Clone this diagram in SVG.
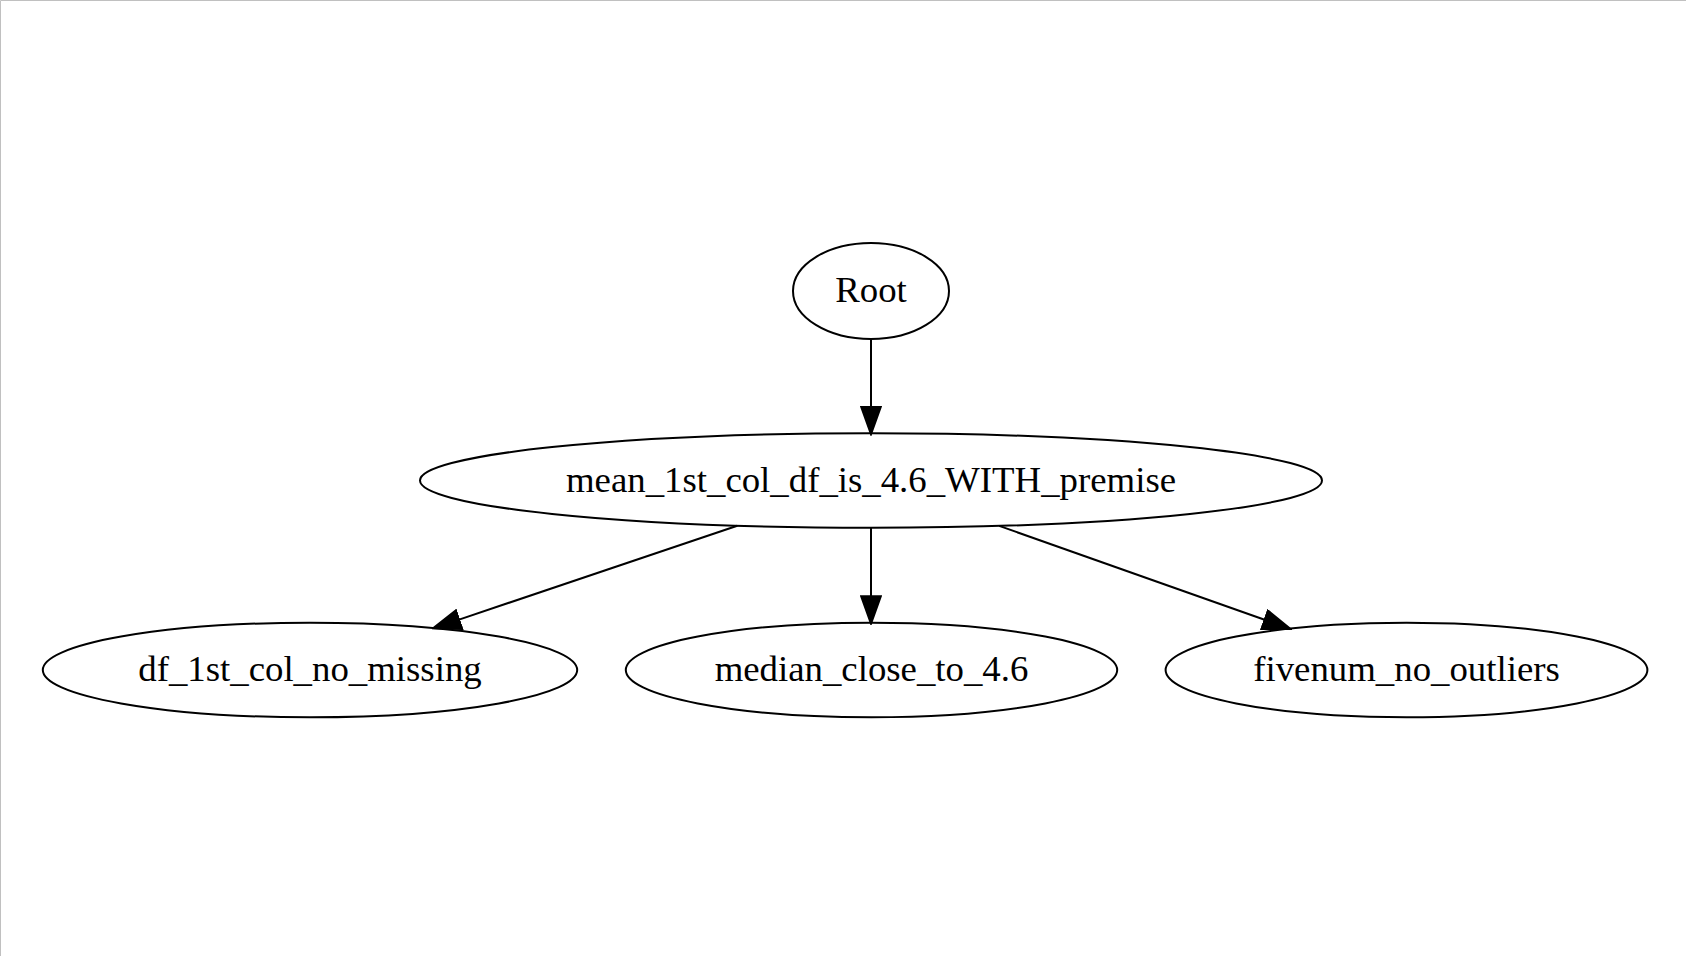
<svg xmlns="http://www.w3.org/2000/svg" width="1686" height="956" viewBox="0 0 1686 956">
<style>
.node ellipse{fill:none;stroke:#000;stroke-width:2}
.node text{font-family:"Liberation Serif","Times New Roman",serif;font-size:36.8px;fill:#000;text-anchor:middle}
.edge{stroke:#000;stroke-width:2;fill:none}
</style>
<defs>
<marker id="arrow" markerUnits="userSpaceOnUse" markerWidth="30" markerHeight="22" viewBox="-1 -1 29 21" refX="0" refY="9.5" orient="auto">
<path d="M0,0 L26.5,9.5 L0,19 Z" fill="#000" stroke="#000" stroke-width="2"/>
</marker>
</defs>
<rect width="1686" height="956" fill="#fff"/>
<path d="M0.5,956 V0.5 H1686" stroke="#c0c0c0" stroke-width="1" fill="none"/>
<g id="connectors">
<line class="edge" x1="871" y1="339" x2="871" y2="406.7" marker-end="url(#arrow)"/>
<line class="edge" x1="871" y1="527.8" x2="871" y2="596.2" marker-end="url(#arrow)"/>
<line class="edge" x1="737.3" y1="525.7" x2="459.1" y2="619.6" marker-end="url(#arrow)"/>
<line class="edge" x1="999.2" y1="525.9" x2="1264.6" y2="619.8" marker-end="url(#arrow)"/>
</g>
<g id="root" class="node">
<ellipse cx="871" cy="291" rx="78" ry="48"/>
<text x="871" y="302">Root</text>
</g>
<g id="mean" class="node">
<ellipse cx="871" cy="480.5" rx="451" ry="47.3"/>
<text x="871" y="491.5">mean_1st_col_df_is_4.6_WITH_premise</text>
</g>
<g id="df" class="node">
<ellipse cx="310" cy="670" rx="267.2" ry="47.3"/>
<text x="310" y="681">df_1st_col_no_missing</text>
</g>
<g id="median" class="node">
<ellipse cx="871.5" cy="670" rx="245.7" ry="47.3"/>
<text x="871.5" y="681">median_close_to_4.6</text>
</g>
<g id="fivenum" class="node">
<ellipse cx="1406.5" cy="670" rx="240.9" ry="47.3"/>
<text x="1406.5" y="681">fivenum_no_outliers</text>
</g>
</svg>
